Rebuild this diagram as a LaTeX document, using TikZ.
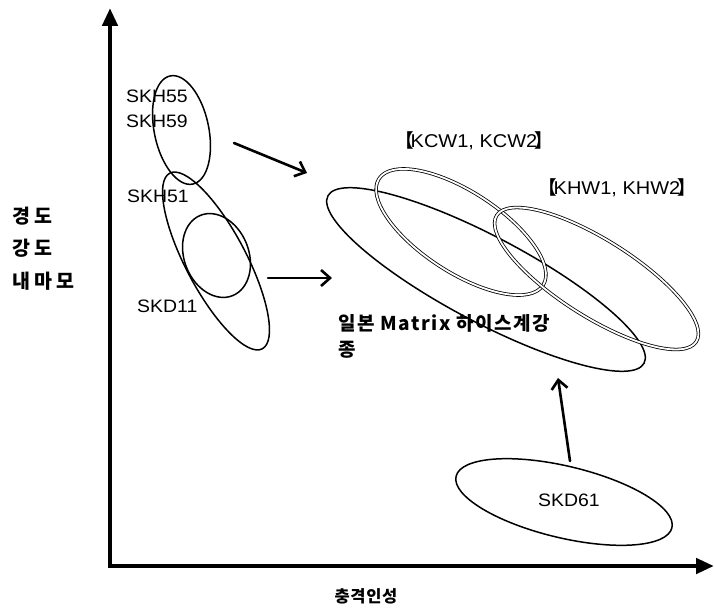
\documentclass[tikz,border=0pt]{standalone}
\usepackage{fontspec}
\setmainfont{Liberation Sans}[FakeStretch=1.08]
\newfontfamily\kr{Noto Sans CJK KR}
\usetikzlibrary{arrows.meta,shapes.geometric}
\begin{document}
\begin{tikzpicture}[x=1pt,y=-1pt,
  lab/.style={inner sep=0pt, anchor=west, font=\fontsize{18}{20}\selectfont},
  brk/.style={inner sep=0pt, font=\fontsize{18.5}{20}\selectfont},
  kor/.style={inner sep=0pt, font=\kr\bfseries},
  ylab/.style={inner sep=0pt, anchor=west, font=\kr\bfseries\fontsize{19.5}{22}\selectfont\addfontfeatures{LetterSpace=22}},
  blk/.style={ellipse, draw, line width=1.5pt, inner sep=0pt},
  dbl/.style={ellipse, draw, double, double distance=1.8pt, line width=0.8pt, inner sep=0pt},
  axis/.style={line width=4.5pt, {Triangle[length=18pt,width=15pt]}-{Triangle[length=18pt,width=15pt]}},
  arr/.style={line width=2.6pt, line cap=round, -{Straight Barb[length=9pt,width=16pt]}}]
\useasboundingbox (0,0) rectangle (714,612);

% axes
\coordinate (ytip) at (110,8);
\coordinate (org) at (110,566);
\coordinate (xtip) at (714,566);
\draw[axis] (ytip) -- (org) -- (xtip);

% axis labels
\node[ylab] (y1) at (12,216) {경도};
\node[ylab] (y2) at (12,248.5) {강도};
\node[ylab] (y3) at (12,281.5) {내마모};
\node[kor, font=\kr\bfseries\fontsize{16.5}{18}\selectfont\addfontfeatures{LetterSpace=4}] (xl) at (366,596.5) {충격인성};

% material labels
\node[lab] (l55) at (126,96.5) {SKH55};
\node[lab] (l59) at (126,121.5) {SKH59};
\node[lab] (l51) at (127,196.5) {SKH51};
\node[lab] (l11) at (137,306.5) {SKD11};
\node[lab] (l61) at (538,500.5) {SKD61};
\node[brk] (lkcw) at (474,140.5) {{\kr\bfseries 【}\hspace{-3pt}KCW1, KCW2\hspace{-3pt}{\kr\bfseries 】}};
\node[brk] (lkhw) at (617,187.5) {{\kr\bfseries 【}\hspace{-3pt}KHW1, KHW2\hspace{-3pt}{\kr\bfseries 】}};
\node[kor, anchor=north west, align=left, font=\kr\bfseries\fontsize{19}{26}\selectfont\addfontfeatures{LetterSpace=8}] (lmat) at (338,314) {일본 Matrix 하이스계강\\종};

% ellipses
\node[blk, minimum width=110.5pt, minimum height=54.5pt, rotate=-78.2] (e55) at (181.5,130) {};
\node[blk, minimum width=198.5pt, minimum height=60.5pt, rotate=-62.2] (e51) at (216,261) {};
\node[blk, minimum width=86.5pt, minimum height=64.5pt, rotate=-68.3] (e11) at (216.5,255.5) {};
\node[blk, minimum width=357.7pt, minimum height=85.3pt, rotate=-27.9] (emat) at (486,279.5) {};
\node[dbl, minimum width=195.6pt, minimum height=80.6pt, rotate=-33] (ekcw) at (461,232) {};
\node[dbl, minimum width=236.2pt, minimum height=76.8pt, rotate=-32.3] (ekhw) at (596.5,278.5) {};
\node[blk, minimum width=221.9pt, minimum height=71.7pt, rotate=-13.4] (e61) at (564,502) {};

% arrows
\coordinate (a1s) at (234,143);
\coordinate (a1e) at (307,173);
\coordinate (a2s) at (268,278);
\coordinate (a2e) at (332,278);
\coordinate (a3s) at (570,461);
\coordinate (a3e) at (558,378);
\draw[arr] (a1s) -- (a1e);
\draw[arr] (a2s) -- (a2e);
\draw[arr] (a3s) -- (a3e);
\end{tikzpicture}
\end{document}
